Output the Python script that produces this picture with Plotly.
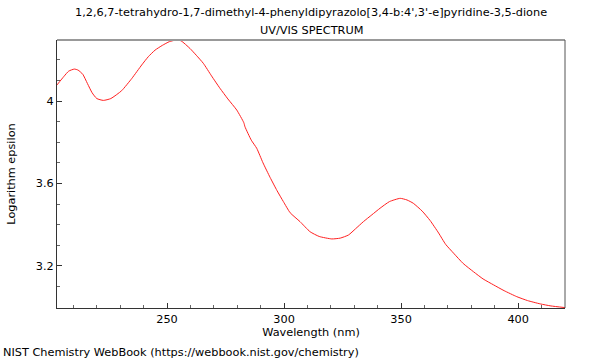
import plotly.graph_objects as go

wavelength = [203, 206, 208, 210.4, 212, 214, 216, 218, 220, 222.8, 226, 230.6, 235,
              239.2, 242, 244.9, 248, 251, 254, 256, 259.8, 262.5, 265.5, 269, 272.6,
              276, 279.8, 282.8, 283.3, 286, 288.3, 291, 294, 297, 299.7, 302.6, 306.8,
              311.1, 315, 320.4, 324, 327.5, 330.5, 333.9, 337.5, 341, 345, 349.6, 352.5,
              355.2, 359, 362.4, 366, 369, 372.4, 376.5, 380.9, 385, 389.5, 394, 399.4,
              404, 409.4, 414, 420]
log_eps = [4.078, 4.12, 4.145, 4.155, 4.150, 4.13, 4.085, 4.040, 4.012, 4.003, 4.012,
           4.050, 4.110, 4.175, 4.215, 4.247, 4.270, 4.288, 4.296, 4.292, 4.255, 4.222,
           4.183, 4.122, 4.062, 4.010, 3.956, 3.895, 3.875, 3.81, 3.771, 3.70, 3.630,
           3.565, 3.512, 3.458, 3.415, 3.366, 3.343, 3.331, 3.335, 3.350, 3.380, 3.415,
           3.448, 3.480, 3.512, 3.528, 3.520, 3.504, 3.466, 3.420, 3.360, 3.305, 3.262,
           3.212, 3.172, 3.137, 3.108, 3.080, 3.051, 3.032, 3.016, 3.006, 2.998]

title_line1 = "1,2,6,7-tetrahydro-1,7-dimethyl-4-phenyldipyrazolo[3,4-b:4',3'-e]pyridine-3,5-dione"
title_line2 = "UV/VIS SPECTRUM"
credit = "NIST Chemistry WebBook (https://webbook.nist.gov/chemistry)"

font = "DejaVu Sans, sans-serif"
fs = 11.3

fig = go.Figure()
fig.add_trace(go.Scatter(x=wavelength, y=log_eps, mode="lines",
                         line=dict(color="#ff2020", width=1, shape="spline", smoothing=0.5),
                         showlegend=False))

W, H = 600, 360
L, R, T, B = 57, 35, 40, 52
pw, ph = W - L - R, H - T - B

def px_x(x):
    return (x - L) / pw

def px_y(y):
    return (H - B - y) / ph

fig.update_layout(
    width=W, height=H,
    margin=dict(l=L, r=R, t=T, b=B),
    paper_bgcolor="white", plot_bgcolor="white",
    font=dict(family=font, size=fs, color="black"),
    xaxis=dict(range=[203, 420], showgrid=False, zeroline=False,
               showline=True, linecolor="#333", linewidth=1,
               ticks="inside", ticklen=5, tickcolor="#333", tickwidth=1,
               tick0=250, dtick=50,
               minor=dict(ticks="inside", ticklen=3, tickcolor="#666", dtick=10, tick0=200),
               title=dict(text="Wavelength (nm)", standoff=3, font=dict(size=fs)),
               tickfont=dict(size=fs)),
    yaxis=dict(range=[2.996, 4.296], showgrid=False, zeroline=False,
               showline=True, linecolor="#333", linewidth=1,
               ticks="inside", ticklen=5, tickcolor="#333", tickwidth=1,
               tick0=3.2, dtick=0.4,
               minor=dict(ticks="inside", ticklen=3, tickcolor="#666", dtick=0.1, tick0=3.0),
               title=dict(text="Logarithm epsilon", standoff=17, font=dict(size=fs)),
               tickfont=dict(size=fs)),
    shapes=[
        dict(type="line", xref="paper", yref="paper", x0=0, x1=1, y0=1, y1=1,
             line=dict(color="#999", width=2)),
        dict(type="line", xref="paper", yref="paper", x0=1, x1=1, y0=0, y1=1,
             line=dict(color="#555", width=1)),
    ],
    annotations=[
        dict(text=title_line1, xref="paper", yref="paper", x=px_x(311), y=px_y(13),
             xanchor="center", yanchor="middle", showarrow=False,
             font=dict(family=font, size=fs, color="black")),
        dict(text=title_line2, xref="paper", yref="paper", x=px_x(311), y=px_y(30),
             xanchor="center", yanchor="middle", showarrow=False,
             font=dict(family=font, size=fs, color="black")),
        dict(text=credit, xref="paper", yref="paper", x=px_x(1), y=px_y(352),
             xanchor="left", yanchor="middle", showarrow=False,
             font=dict(family=font, size=fs, color="black")),
    ],
)

fig.write_html("out.html", config={"displayModeBar": False},
               post_script="document.body.style.margin='0';document.body.style.overflow='hidden';")
